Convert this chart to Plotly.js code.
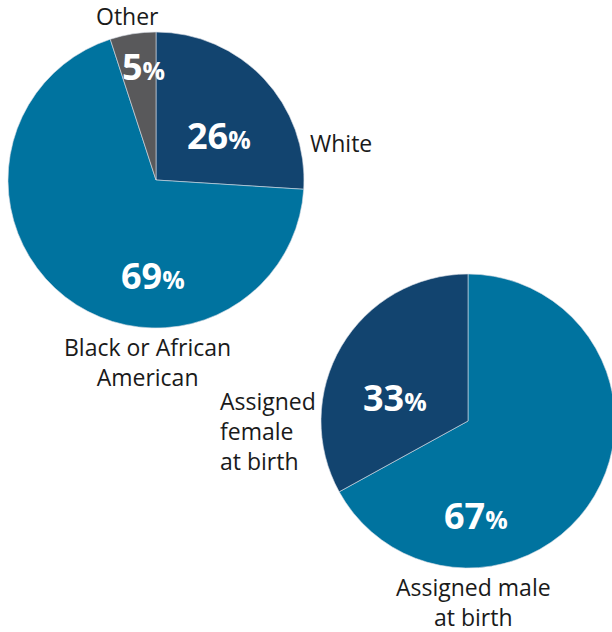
<!DOCTYPE html>
<html>
<head>
<meta charset="utf-8">
<script src="https://cdn.plot.ly/plotly-3.0.1.min.js"></script>
<style>
html, body { margin: 0; padding: 0; overflow: hidden; background: #fff; }
#chart { width: 615px; height: 632px; }
</style>
</head>
<body>
<div id="chart"></div>
<script>
// Data
const raceLabels = ["White", "Black or African<br>American", "Other"];
const raceValues = [26, 69, 5];
const sexLabels = ["Assigned male<br>at birth", "Assigned<br>female<br>at birth"];
const sexValues = [67, 33];

const W = 615, H = 632;
const darkBlue = "#12446F", teal = "#00739F", gray = "#59595B";
const labelFont = { family: "'Open Sans', Lato, sans-serif", size: 23, color: "#1a1a1a" };
const pctFont = { family: "'Open Sans', Lato, sans-serif", size: 36, color: "#ffffff" };

function px(x) { return x / W; }
function py(y) { return 1 - y / H; }

const traces = [
  {
    type: "pie",
    values: raceValues,
    labels: raceLabels,
    sort: false,
    direction: "clockwise",
    rotation: 0,
    textinfo: "none",
    hoverinfo: "label+percent",
    marker: { colors: [darkBlue, teal, gray], line: { color: "#d9dee5", width: 0.6 } },
    domain: { x: [px(8), px(304)], y: [py(328), py(32)] },
    showlegend: false
  },
  {
    type: "pie",
    values: sexValues,
    labels: sexLabels,
    sort: false,
    direction: "clockwise",
    rotation: 0,
    textinfo: "none",
    hoverinfo: "label+percent",
    marker: { colors: [teal, darkBlue], line: { color: "#d9dee5", width: 0.6 } },
    domain: { x: [px(321), px(615)], y: [py(568), py(274)] },
    showlegend: false
  }
];

function pct(v) {
  return "<b>" + v + "</b><span style='font-size:25px'><b>%</b></span>";
}

// label positions (layout only): [x, block-centre y, anchor]
const racePctPos = [[219, 135], [153, 275], [143, 66]];
const raceLblPos = [[341, 143, "center"], [147, 362, "center"], [127, 16, "center"]];
const sexPctPos = [[476, 515], [395, 397]];
const sexLblPos = [[473, 602, "center"], [218, 431, "left"]];

const annotations = [];
function addPct(v, pos) {
  annotations.push({ xref: "paper", yref: "paper", x: px(pos[0]), y: py(pos[1]),
    xanchor: "center", yanchor: "middle", text: pct(v), showarrow: false, font: pctFont });
}
function addLabel(label, pos) {
  annotations.push({ xref: "paper", yref: "paper", x: px(pos[0]), y: py(pos[1]),
    xanchor: pos[2], yanchor: "middle", align: pos[2],
    text: label, showarrow: false, font: labelFont });
}
raceValues.forEach((v, i) => { addPct(v, racePctPos[i]); addLabel(raceLabels[i], raceLblPos[i]); });
sexValues.forEach((v, i) => { addPct(v, sexPctPos[i]); addLabel(sexLabels[i], sexLblPos[i]); });

const layout = {
  width: W,
  height: H,
  margin: { l: 0, r: 0, t: 0, b: 0 },
  paper_bgcolor: "#ffffff",
  plot_bgcolor: "#ffffff",
  annotations: annotations,
  showlegend: false
};

Plotly.newPlot("chart", traces, layout, { displayModeBar: false, staticPlot: true });
</script>
</body>
</html>
